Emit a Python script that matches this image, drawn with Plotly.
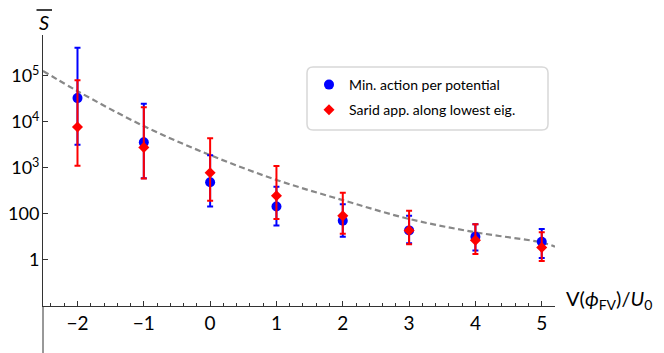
import plotly.graph_objects as go

# ---- data (y in the plot's log-axis units) ----
x_vals = [-2, -1, 0, 1, 2, 3, 4, 5]

blue_mid = [3.3e4, 3.6e3, 490, 145, 71, 44, 32, 25]
blue_hi = [4.1e5, 2.5e4, 1900, 390, 162, 91, 60, 47]
blue_lo = [3.2e3, 600, 145, 56, 32, 23, 16, 11]

red_mid = [7800, 2800, 790, 250, 91, 44, 27, 18.6]
red_hi = [8.1e4, 2.1e4, 4400, 1100, 290, 117, 60, 40]
red_lo = [1120, 590, 195, 78, 37, 22, 13.5, 9.5]

fit_x = [-2.52, -2, -1, 0, 1, 2, 3, 4, 5, 5.2]
fit_y = [1.29e5, 4.68e4, 8130, 1905, 550, 200, 78, 40, 24, 19.5]

ytick_vals = [10, 100, 1000, 1e4, 1e5]
ytick_text = ["1", "100", "10<sup>3</sup>", "10<sup>4</sup>", "10<sup>5</sup>"]
xtick_vals = [-2, -1, 0, 1, 2, 3, 4, 5]
xtick_text = ["\u22122", "\u22121", "0", "1", "2", "3", "4", "5"]

blue_name = "Min. action per potential"
red_name = "Sarid app. along lowest eig."

FONT = "Lato"
AXIS = "#333333"

fig = go.Figure()

fig.add_trace(go.Scatter(
    x=fit_x, y=fit_y, mode="lines", line=dict(color="#888888", width=2.2, dash="6px,3.5px", shape="spline"),
    showlegend=False, hoverinfo="skip"))

fig.add_trace(go.Scatter(
    x=x_vals, y=blue_mid, mode="markers", name=blue_name, legendgroup="b",
    marker=dict(symbol="circle", size=10, color="#0000FF"),
    error_y=dict(type="data", symmetric=False,
                 array=[h - m for h, m in zip(blue_hi, blue_mid)],
                 arrayminus=[m - l for m, l in zip(blue_mid, blue_lo)],
                 color="#0000FF", thickness=2, width=3)))

fig.add_trace(go.Scatter(
    x=x_vals, y=red_mid, mode="markers", name=red_name, legendgroup="r",
    marker=dict(symbol="diamond", size=8.5, color="#FF0000"),
    error_y=dict(type="data", symmetric=False,
                 array=[h - m for h, m in zip(red_hi, red_mid)],
                 arrayminus=[m - l for m, l in zip(red_mid, red_lo)],
                 color="#FF0000", thickness=2, width=3)))

# page has an 8px body margin: figure is drawn from (8, 8) in the window
OFF = 8
PAGE_W, PAGE_H = 664, 353
W, H = PAGE_W - OFF, PAGE_H - OFF
# plot area in page pixels
PL, PR, PT, PB = 43, 555, 35, 306
L, R, T, B = PL - OFF, W - (PR - OFF), PT - OFF, H - (PB - OFF)
pw, ph = PR - PL, PB - PT


def px(xp):  # page x pixel -> paper
    return (xp - PL) / pw


def py(yp):  # page y pixel -> paper
    return (PB - yp) / ph


# rounded legend box
x0, x1 = px(307), px(548)
y1, y0 = py(67), py(130)
rx, ry = 6 / pw, 6 / ph
path = (f"M {x0+rx},{y1} L {x1-rx},{y1} Q {x1},{y1} {x1},{y1-ry} L {x1},{y0+ry} "
        f"Q {x1},{y0} {x1-rx},{y0} L {x0+rx},{y0} Q {x0},{y0} {x0},{y0+ry} "
        f"L {x0},{y1-ry} Q {x0},{y1} {x0+rx},{y1} Z")

shapes = [
    dict(type="path", xref="paper", yref="paper", path=path,
         line=dict(color="#d8d8d8", width=1.5), fillcolor="white", layer="below"),
    # y-axis extension below the x-axis
    dict(type="line", xref="paper", yref="paper", x0=0, x1=0, y0=0, y1=py(PAGE_H),
         line=dict(color=AXIS, width=1)),
    # overbar of S
    dict(type="line", xref="paper", yref="paper", x0=px(36.5), x1=px(52), y0=py(10), y1=py(10),
         line=dict(color="black", width=1.5)),
]

annotations = [
    dict(text="<i>S</i>", xref="paper", yref="paper", x=px(44), y=py(22),
         xanchor="center", yanchor="middle", showarrow=False,
         font=dict(family=FONT, size=20, color="black")),
    dict(text="V(<i>\u03d5</i><sub>FV</sub>)/<i>U</i><sub>0</sub>", xref="paper", yref="paper",
         x=px(564), y=py(299), xanchor="left", yanchor="middle", showarrow=False,
         font=dict(family=FONT, size=20, color="black")),
]

fig.update_layout(
    width=W, height=H,
    margin=dict(l=L, r=R, t=T, b=B),
    plot_bgcolor="white", paper_bgcolor="white",
    font=dict(family=FONT, color="black"),
    shapes=shapes, annotations=annotations,
    legend=dict(x=px(309), y=py(69), xanchor="left", yanchor="top",
                bgcolor="rgba(0,0,0,0)", borderwidth=0, tracegroupgap=4,
                font=dict(family=FONT, size=14, color="black")),
    xaxis=dict(range=[-2.52, 5.2], tickvals=xtick_vals, ticktext=xtick_text, automargin=False,
               showgrid=False, zeroline=False, showline=True, linecolor=AXIS, linewidth=1,
               ticks="inside", ticklen=5, tickcolor=AXIS, tickwidth=1,
               tickfont=dict(family=FONT, size=19, color="black"),
               minor=dict(dtick=0.2, ticks="inside", ticklen=3, tickcolor=AXIS, showgrid=False)),
    yaxis=dict(type="log", range=[0, 5.89], tickvals=ytick_vals, ticktext=ytick_text, automargin=False,
               showgrid=False, zeroline=False, showline=True, linecolor=AXIS, linewidth=1,
               ticks="inside", ticklen=5, tickcolor=AXIS, tickwidth=1, ticklabelstandoff=-1,
               tickfont=dict(family=FONT, size=18, color="black")),
)

fig.write_html("out.html")
